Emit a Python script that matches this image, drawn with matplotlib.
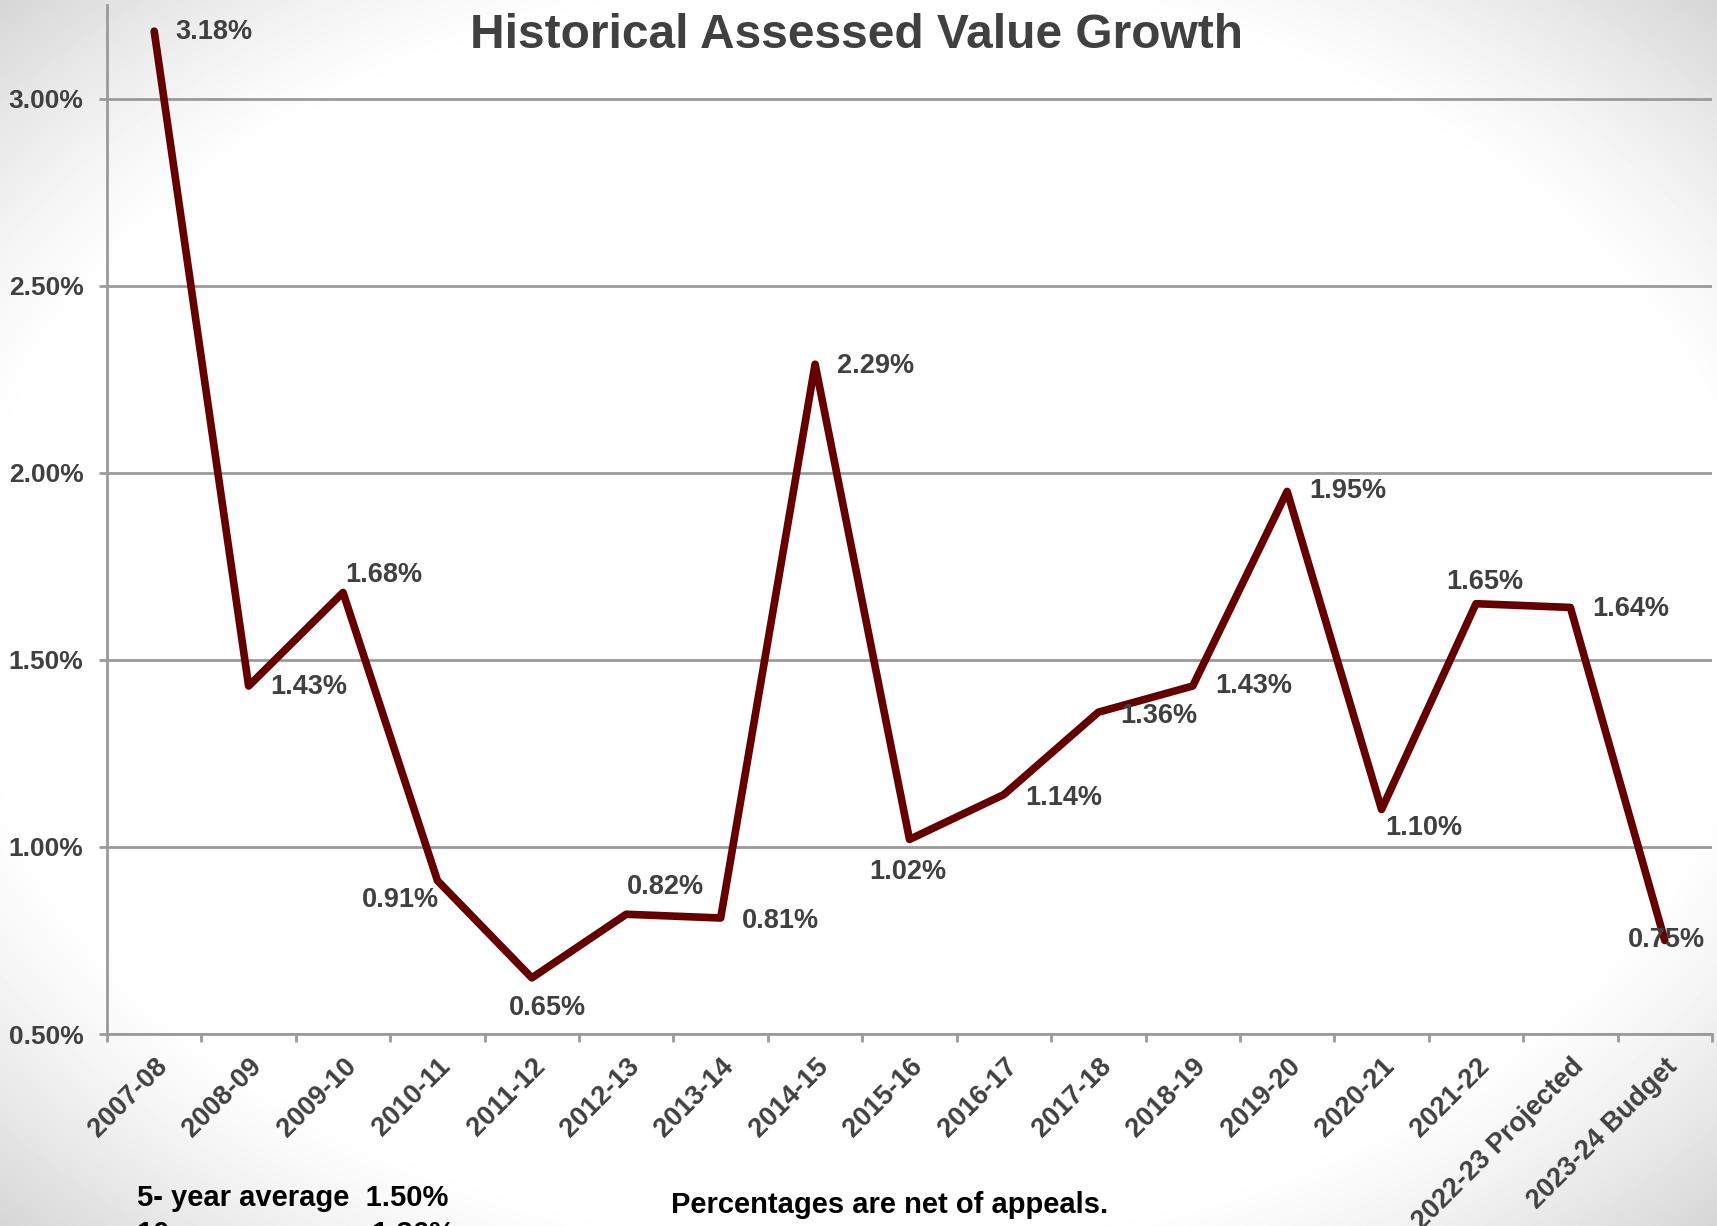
import numpy as np
import matplotlib
matplotlib.use("Agg")
from matplotlib import pyplot as plt
from matplotlib.ticker import FixedLocator, PercentFormatter
from matplotlib.transforms import ScaledTranslation

plt.rcParams['font.family'] = ['Liberation Sans', 'DejaVu Sans']
plt.rcParams['font.weight'] = 'bold'

# fiscal years and growth values (%)
years = ['2007-08', '2008-09', '2009-10', '2010-11', '2011-12', '2012-13',
         '2013-14', '2014-15', '2015-16', '2016-17', '2017-18', '2018-19',
         '2019-20', '2020-21', '2021-22', '2022-23 Projected', '2023-24 Budget']
growth = [3.18, 1.43, 1.68, 0.91, 0.65, 0.82, 0.81, 2.29, 1.02, 1.14,
          1.36, 1.43, 1.95, 1.10, 1.65, 1.64, 0.75]
avg_5yr = 1.50
avg_10yr = 1.36

# label offsets from each point, in pixels (layout only)
label_offsets = [(60, -1), (60, -1), (41, 17), (-37, -19), (16, -30),
                 (39, 27), (60, -3), (60, -2), (-2, -33), (60, -3),
                 (60, -4), (61, 0), (61, 0), (42, -19), (9, 22), (60, -2),
                 (2, 0)]

W, H = 1717, 1226
fig = plt.figure(figsize=(W / 100, H / 100), dpi=100)

# slide-like background: white centre, light grey corners
bg = fig.add_axes([0, 0, 1, 1], zorder=-10)
yy, xx = np.mgrid[0:1:300j, 0:1:420j]
r = np.sqrt(((xx - 0.5) / 0.5) ** 2 + ((yy - 0.5) / 0.5) ** 2) / np.sqrt(2)
shade = 1 - 0.16 * np.clip((r - 0.72) / 0.28, 0, 1) ** 1.3
bg.imshow(shade, cmap='gray', vmin=0, vmax=1, aspect='auto',
          extent=[0, 1, 0, 1], interpolation='bilinear')
bg.axis('off')

ax = fig.add_axes([107 / W, 1 - 1034 / H, (1712 - 107) / W, (1034 - 5) / H])
ax.set_facecolor('none')

x = np.arange(len(years))
ax.plot(x, growth, color='#650000', lw=5.5, solid_joinstyle='round',
        solid_capstyle='round', zorder=3)

txt_col = '#404040'
for xi, v, (dx, dy) in zip(x, growth, label_offsets):
    ax.annotate(f'{v:.2f}%', (xi, v), xytext=(dx, dy), textcoords='offset pixels',
                ha='center', va='center', fontsize=19.5, fontweight='bold',
                color=txt_col, zorder=4)

ax.set_xlim(-0.5, len(years) - 0.5)
ax.set_ylim(0.5, 3.25)

ax.yaxis.set_major_locator(FixedLocator([0.5, 1.0, 1.5, 2.0, 2.5, 3.0]))
ax.yaxis.set_major_formatter(PercentFormatter(decimals=2))
ax.grid(axis='y', color='#9a9a9a', lw=2)
ax.set_axisbelow(True)

ax.set_xticks(x)
ax.set_xticklabels(years, rotation=45, ha='right', rotation_mode='anchor')
shift = ScaledTranslation(-8 / 100, 0, fig.dpi_scale_trans)
for lbl in ax.get_xticklabels():
    lbl.set_transform(lbl.get_transform() + shift)
ax.xaxis.set_minor_locator(FixedLocator(np.arange(len(years) + 1) - 0.5))
ax.tick_params(axis='x', which='major', length=0, pad=14, labelsize=19.5,
               labelcolor=txt_col)
ax.tick_params(axis='x', which='minor', length=6, width=2, color='#9a9a9a')
ax.tick_params(axis='y', length=6, width=2, color='#9a9a9a', pad=11,
               labelsize=19, labelcolor=txt_col)

for s in ['top', 'right']:
    ax.spines[s].set_visible(False)
for s in ['left', 'bottom']:
    ax.spines[s].set_color('#9a9a9a')
    ax.spines[s].set_linewidth(2)

fig.text(0.499, 0.971, 'Historical Assessed Value Growth', ha='center',
         va='center', fontsize=34.5, fontweight='bold', color=txt_col)

fig.text(137 / W, 1 - 1206 / H, f'5- year average  {avg_5yr:.2f}%',
         ha='left', va='baseline', fontsize=21, fontweight='bold', color='black')
fig.text(137 / W, 1 - 1242 / H, f'10 year average  {avg_10yr:.2f}%',
         ha='left', va='baseline', fontsize=21, fontweight='bold', color='black')
fig.text(890 / W, 1 - 1205 / H, 'Percentages are net of appeals.',
         ha='center', va='center', fontsize=21, fontweight='bold', color='black')

fig.savefig('out.png', dpi=100)
